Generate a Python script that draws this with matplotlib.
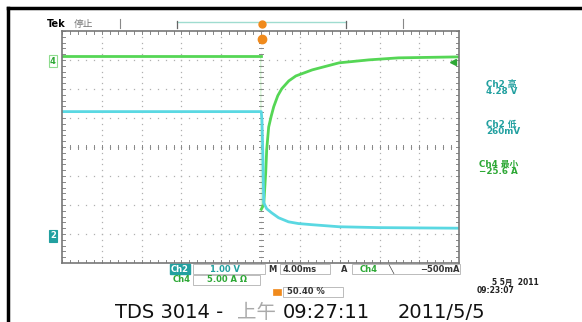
import numpy as np
import matplotlib
matplotlib.use("Agg")
import matplotlib.pyplot as plt
from matplotlib.lines import Line2D
from matplotlib.patches import Rectangle

plt.rcParams['font.family'] = ['DejaVu Sans', 'Noto Sans CJK SC']

W, H = 582, 322

# scope settings
sec_div = 4.0      # ms/div
ch2_vdiv = 1.0     # V/div
ch4_adiv = 5.0     # A/div
ch2_off = -3.06    # ground marker position (div)
ch4_off = 2.97

# Ch2 voltage (V) vs time (ms)
t_ch2 = [-20, 0.05, 0.12, 0.2, 0.3, 0.6, 1.1, 1.8, 2.8, 3.8, 5.2, 7.9, 11.9, 20]
v_ch2 = [4.28, 4.28, 4.0, 2.97, 1.14, 0.93, 0.79, 0.62, 0.48, 0.42, 0.38, 0.31, 0.28, 0.26]

# Ch4 current (A) vs time (ms)
t_ch4 = [-20, 0, 0.05, 0.3, 0.5, 0.6, 0.8, 1.06, 1.31, 1.72, 2.12, 2.83, 3.54, 5.2, 7.9, 10.9,
         13.9, 20]
i_ch4 = [0.86, 0.86, -25.6, -24.8, -19.3, -15.3, -11.4, -9.5, -7.9, -6.0, -4.8, -3.45, -2.6,
         -1.55, -0.34, 0.17, 0.52, 0.69]

meas_labels = ["Ch2 高", "Ch2 低", "Ch4 最小"]
meas_values = ["4.28 V", "260mV", "\u221225.6 A"]

GREEN = "#55d655"
CYAN = "#5ad8e2"
TEAL = "#22a0a0"
DGREEN = "#2ea836"
ORANGE = "#f08a1c"


def fx(x):
    return x / W


def fy(y):
    return 1 - y / H


fig = plt.figure(figsize=(W / 100, H / 100), dpi=100)
fig.patch.set_facecolor("white")

# outer black frame (top and left only)
fig.add_artist(Line2D([fx(8), 1], [fy(8), fy(8)], color="black", lw=2.5))
fig.add_artist(Line2D([fx(8), fx(8)], [fy(8), 0], color="black", lw=2.5))

L, R, T, B = 62.5, 459, 31, 263
ax = fig.add_axes([fx(L), fy(B), (R - L) / W, (B - T) / H])
ax.set_xlim(-5, 5)
ax.set_ylim(-4, 4)
ax.set_xticks([])
ax.set_yticks([])
for s in ax.spines.values():
    s.set_color("#777777")
    s.set_linewidth(1.2)

# graticule dots
gc = "#b0b0b0"
for gx in range(-4, 5):
    ys = np.arange(-4, 4.01, 0.2)
    ax.plot(np.full_like(ys, gx), ys, ls="none", marker="s", ms=0.9, color=gc, mew=0)
for gy in range(-3, 4):
    xs = np.arange(-5, 5.01, 0.2)
    ax.plot(xs, np.full_like(xs, gy), ls="none", marker="s", ms=0.9, color=gc, mew=0)

# minor ticks on centre lines and border
tk = "#888888"
for v in np.arange(-5, 5.01, 0.2):
    ax.plot([v, v], [-0.07, 0.07], color=tk, lw=0.7)
    ax.plot([v, v], [4, 3.9], color=tk, lw=0.7)
    ax.plot([v, v], [-4, -3.9], color=tk, lw=0.7)
for v in np.arange(-4, 4.01, 0.2):
    ax.plot([-0.05, 0.05], [v, v], color=tk, lw=0.7)
    ax.plot([-5, -4.93], [v, v], color=tk, lw=0.7)
    ax.plot([5, 4.93], [v, v], color=tk, lw=0.7)

# traces
x2 = np.array(t_ch2) / sec_div
y2 = np.array(v_ch2) / ch2_vdiv + ch2_off
x4 = np.array(t_ch4) / sec_div
y4 = np.array(i_ch4) / ch4_adiv + ch4_off
ax.plot(x4[:2], y4[:2], color=GREEN, lw=2.0)
ax.plot(x4[1:3], y4[1:3], color=GREEN, lw=0.6, alpha=0.35)
ax.plot(x4[2:], y4[2:], color=GREEN, lw=2.0, solid_joinstyle="round")
ax.plot(x2, y2, color=CYAN, lw=2.0, solid_joinstyle="round")

# trigger level marker at right edge
ax.plot([4.85], [ch4_off - 0.5 / ch4_adiv + 0.05], marker="<", color=DGREEN, ms=4, clip_on=False)

# channel markers on the left
fig.text(fx(53), fy(61), "4", color=DGREEN, fontsize=6, fontweight="bold", ha="center", va="center",
         bbox=dict(boxstyle="square,pad=0.15", fc="white", ec="#8fdc8f", lw=0.8))
fig.text(fx(53), fy(236), "2", color="white", fontsize=6, fontweight="bold", ha="center", va="center",
         bbox=dict(boxstyle="square,pad=0.15", fc=TEAL, ec=TEAL, lw=0.8))

# top status line
fig.text(fx(47), fy(24), "Tek", fontsize=7, fontweight="bold", color="black", va="center")
fig.text(fx(74), fy(24), "停止", fontsize=7, color="#777777", va="center",
         family=['Noto Sans CJK SC', 'DejaVu Sans'])
fig.add_artist(Line2D([fx(120), fx(120)], [fy(19), fy(28)], color="#888888", lw=0.8))
fig.add_artist(Line2D([fx(403), fx(403)], [fy(19), fy(28)], color="#888888", lw=0.8))
fig.add_artist(Line2D([fx(177), fx(346)], [fy(22), fy(22)], color="#9fdcd0", lw=1.0))
fig.add_artist(Line2D([fx(177), fx(177)], [fy(21), fy(28)], color="#666666", lw=0.9))
fig.add_artist(Line2D([fx(346), fx(346)], [fy(21), fy(28)], color="#666666", lw=0.9))
fig.add_artist(Line2D([fx(262)], [fy(24)], marker="o", ms=5, color=ORANGE))
fig.add_artist(Line2D([fx(262)], [fy(39)], marker="o", ms=6, color=ORANGE))

# measurement readouts
ys_lab = [84, 124, 164]
xs_lab = [486, 486, 479]
cols = [TEAL, TEAL, DGREEN]
for lab, val, yy, xx, c in zip(meas_labels, meas_values, ys_lab, xs_lab, cols):
    fig.text(fx(xx), fy(yy), lab, color=c, fontsize=6.3, fontweight="bold", va="center",
             family=['DejaVu Sans', 'Noto Sans CJK SC'])
    fig.text(fx(xx), fy(yy + 8), val, color=c, fontsize=6.3, fontweight="bold", va="center")

# bottom readouts
fs = 6
fig.text(fx(180), fy(269), "Ch2", color="white", fontsize=fs, fontweight="bold", ha="center", va="center",
         bbox=dict(boxstyle="square,pad=0.1", fc=TEAL, ec=TEAL))
fig.add_artist(Rectangle((fx(193), fy(274)), fx(72), 10 / H, fill=False, ec="#bbbbbb", lw=0.7))
fig.text(fx(225), fy(269), "1.00 V", color=TEAL, fontsize=fs, fontweight="bold", ha="center", va="center")
fig.text(fx(268), fy(269), "M", color="#333333", fontsize=fs, fontweight="bold", va="center")
fig.add_artist(Rectangle((fx(280), fy(274)), fx(50), 10 / H, fill=False, ec="#bbbbbb", lw=0.7))
fig.text(fx(283), fy(269), "4.00ms", color="#333333", fontsize=fs, fontweight="bold", va="center")
fig.text(fx(341), fy(269), "A", color="#333333", fontsize=fs, fontweight="bold", va="center")
fig.add_artist(Rectangle((fx(352), fy(274)), fx(108), 10 / H, fill=False, ec="#bbbbbb", lw=0.7))
fig.text(fx(360), fy(269), "Ch4", color=DGREEN, fontsize=fs, fontweight="bold", va="center")
fig.text(fx(388), fy(269), "\u2572", color="#333333", fontsize=fs, fontweight="bold", va="center")
fig.text(fx(460), fy(269), "\u2212500mA", color="#333333", fontsize=fs, fontweight="bold", ha="right", va="center")

fig.text(fx(182), fy(280), "Ch4", color=DGREEN, fontsize=fs, fontweight="bold", ha="center", va="center")
fig.add_artist(Rectangle((fx(193), fy(285)), fx(67), 10 / H, fill=False, ec="#bbbbbb", lw=0.7))
fig.text(fx(227), fy(280), "5.00 A \u03a9", color=DGREEN, fontsize=fs, fontweight="bold", ha="center", va="center")

fig.add_artist(Rectangle((fx(273), fy(295)), fx(8), 6 / H, fc=ORANGE, ec=ORANGE, lw=0.5))
fig.add_artist(Rectangle((fx(283), fy(297)), fx(60), 10 / H, fill=False, ec="#bbbbbb", lw=0.7))
fig.text(fx(287), fy(292), "50.40 %", color="#333333", fontsize=fs, fontweight="bold", va="center")

fig.text(fx(515), fy(282), "5 5月  2011", color="#222222", fontsize=5.5, fontweight="bold", ha="center",
         va="center", family=['DejaVu Sans', 'Noto Sans CJK SC'])
fig.text(fx(496), fy(290.5), "09:23:07", color="#222222", fontsize=5.5, fontweight="bold", ha="center",
         va="center")

# footer
ffs = 14
fig.text(fx(115), fy(318), "TDS 3014 -", color="#111111", fontsize=ffs, va="baseline")
fig.text(fx(237), fy(318), "上午", color="#aaaaaa", fontsize=14, va="baseline",
         family=['Noto Sans CJK SC', 'DejaVu Sans'])
fig.text(fx(283), fy(318), "09:27:11", color="#111111", fontsize=ffs, va="baseline")
fig.text(fx(398), fy(318), "2011/5/5", color="#111111", fontsize=ffs, va="baseline")

fig.savefig("out.png", dpi=100, facecolor="white")
